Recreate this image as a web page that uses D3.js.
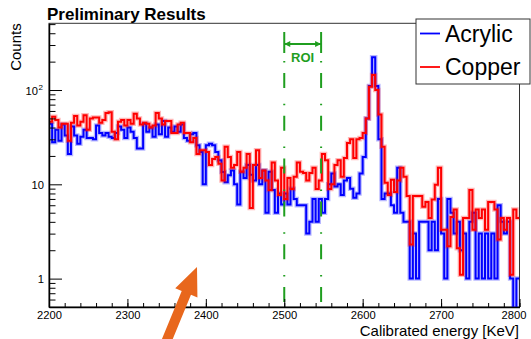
<!DOCTYPE html>
<html>
<head>
<meta charset="utf-8">
<script src="https://cdn.jsdelivr.net/npm/d3@7"></script>
<style>
  body { margin: 0; background: #fff; }
  svg { display: block; font-family: "Liberation Sans", Arial, Helvetica, sans-serif; }
</style>
</head>
<body>
<svg id="chart" width="531" height="339"></svg>
<script>
// binning of both spectra (keV)
const binStart = 2200;
const binWidth = 4;

// counts per bin
const acrylic = [
  44, 28, 38, 29, 43, 33, 21, 41, 33, 27,
  32, 38, 31, 31, 30, 42, 35, 33, 35, 32,
  31, 35, 41, 38, 31, 40, 36, 31, 24, 24,
  44, 36, 40, 32, 43, 34, 47, 32, 40, 36,
  41, 36, 43, 31, 29, 34, 35, 26, 22, 10,
  26, 27, 26, 22, 18, 13.5, 10.5, 12.5, 14, 10,
  6.1, 13.6, 11.7, 16, 12.6, 11, 16, 10, 14, 5,
  13.6, 8.7, 5, 8, 6.1, 8, 6.1, 9, 7, 6,
  6, 6, 3, 4, 7, 4, 7, 5, 7, 10,
  13, 9.5, 10, 7.7, 11, 11.7, 9, 7.2, 8, 13,
  19.5, 50, 110, 223, 110, 30, 7, 8, 8, 6,
  5, 15, 5, 4, 4, 1, 3, 1, 4, 4,
  4, 2, 4, 2, 7, 3, 1, 7, 5, 3,
  4, 2, 3, 1, 4, 5, 1, 3, 1, 3,
  1, 3, 1, 6, 4, 3, 4, 1, 0, 1
];
const copper = [
  46, 52, 48, 40, 44, 44, 29, 45, 53, 42,
  46, 54, 38, 50, 51, 51, 45, 48, 57, 58,
  36, 30, 46, 48, 42, 48, 44, 56, 50, 43,
  45, 44, 40, 42, 57, 50, 43, 47, 47, 35,
  35, 43, 45, 35, 35, 28, 31, 21, 23, 23,
  22, 16, 18.5, 19.5, 16.5, 11, 25, 19.5, 15, 16,
  22, 13.6, 15, 21, 5.6, 16, 23, 11.7, 14, 11,
  8.7, 17, 11, 7.7, 15, 7, 11.7, 8.9, 12, 17,
  13.6, 13.2, 11, 13.2, 15, 8.9, 11, 21, 18, 8.9,
  10, 16, 18, 12, 19, 27.5, 30, 19, 30, 31,
  35, 50, 108, 144, 100, 55, 25, 10.4, 7.7, 11.2,
  8.3, 11, 15, 12, 7.5, 2.3, 7.5, 7.5, 7.5, 5.8,
  6.5, 4.4, 6.9, 9.9, 15, 3.3, 3.3, 2.2, 4.5, 5.4,
  2.1, 1.1, 4.4, 4.4, 8.7, 3.3, 5.4, 4.4, 5.4, 3.3,
  6.5, 6.5, 5.4, 2.6, 4.4, 3.3, 4.4, 1.1, 5.4, 4.4
];

const seriesNames = ["Acrylic", "Copper"];
const seriesColors = ["#0000ff", "#ff0000"];

const xMajor = [2200, 2300, 2400, 2500, 2600, 2700, 2800];
const yMajor = [1, 10, 100];
const yLabels = ["1", "10", "10"];   // the last one gets a superscript 2
const roi = [2500, 2547];

const frame = { left: 49, right: 519.5, top: 23.3, bottom: 307 };
const green = "#1f9e1f";

const svg = d3.select("#chart");

const x = d3.scaleLinear().domain([2200, 2800]).range([frame.left, frame.right]);
const y = d3.scaleLog().domain([0.5, 510]).range([frame.bottom, frame.top]);

// clip for the spectra
svg.append("clipPath").attr("id", "clip")
  .append("rect")
  .attr("x", frame.left).attr("y", frame.top)
  .attr("width", frame.right - frame.left).attr("height", frame.bottom - frame.top);

// frame
svg.append("rect")
  .attr("x", frame.left).attr("y", frame.top)
  .attr("width", frame.right - frame.left).attr("height", frame.bottom - frame.top)
  .attr("fill", "none").attr("stroke", "#333").attr("stroke-width", 1);

// histogram outline as steps
function steps(counts) {
  let pts = counts.map((c, i) => [binStart + i * binWidth, c > 0.5 ? c : 0.3]);
  pts.push([binStart + counts.length * binWidth, pts[pts.length - 1][1]]);
  return pts;
}
const line = d3.line()
  .x(d => x(d[0]))
  .y(d => y(d[1]))
  .curve(d3.curveStepAfter);

const g = svg.append("g").attr("clip-path", "url(#clip)");
[acrylic, copper].forEach((counts, k) => {
  g.append("path").attr("d", line(steps(counts)))
    .attr("fill", "none").attr("stroke", seriesColors[k])
    .attr("stroke-width", 4.5).attr("stroke-opacity", 0.28);
  g.append("path").attr("d", line(steps(counts)))
    .attr("fill", "none").attr("stroke", seriesColors[k])
    .attr("stroke-width", 2);
});

// ROI lines
roi.forEach(e => {
  svg.append("line")
    .attr("x1", x(e)).attr("x2", x(e))
    .attr("y1", 61).attr("y2", frame.bottom)
    .attr("stroke", green).attr("stroke-width", 2)
    .attr("stroke-dasharray", "1.5,10.5,15,15.8");
  svg.append("line")
    .attr("x1", x(e)).attr("x2", x(e))
    .attr("y1", 32).attr("y2", 53)
    .attr("stroke", green).attr("stroke-width", 2);
});
svg.append("line")
  .attr("x1", x(roi[0])).attr("x2", x(roi[1]))
  .attr("y1", 44).attr("y2", 44)
  .attr("stroke", green).attr("stroke-width", 2);
svg.append("path")
  .attr("d", `M${x(roi[0])},44 l6,-3 v6 z M${x(roi[1])},44 l-6,-3 v6 z`)
  .attr("fill", green);
svg.append("text")
  .attr("x", (x(roi[0]) + x(roi[1])) / 2).attr("y", 62)
  .attr("text-anchor", "middle")
  .attr("font-size", 13).attr("font-weight", "bold").attr("fill", green)
  .text("ROI");

// x axis: minor + major ticks pointing inward
const xMinor = d3.range(2200, 2801, 20);
svg.append("g")
  .attr("transform", `translate(0,${frame.bottom})`)
  .call(d3.axisBottom(x).tickValues(xMinor).tickSizeInner(-4).tickSizeOuter(0).tickFormat(""))
  .call(a => a.select(".domain").remove());
const xAxis = svg.append("g")
  .attr("transform", `translate(0,${frame.bottom})`)
  .call(d3.axisBottom(x).tickValues(xMajor).tickSizeInner(-8).tickSizeOuter(0).tickPadding(4).tickFormat(d3.format("d")));
xAxis.select(".domain").attr("stroke-width", 1.5);
xAxis.selectAll("text").attr("font-size", 11.2).attr("fill", "#000")
  .attr("font-family", "Liberation Sans, Arial, sans-serif");
// keep the last label inside the picture
xAxis.selectAll(".tick").filter(d => d === 2800).select("text").attr("dx", -6);

// y axis: log ticks
const yMinor = [];
[0.1, 1, 10, 100].forEach(d => {
  for (let m = 2; m <= 9; m++) {
    const v = d * m;
    if (v >= 0.5 && v <= 510) yMinor.push(v);
  }
});
svg.append("g")
  .attr("transform", `translate(${frame.left},0)`)
  .call(d3.axisLeft(y).tickValues(yMinor).tickSizeInner(-6.5).tickSizeOuter(0).tickFormat(""))
  .call(a => a.select(".domain").remove());
const yAxis = svg.append("g")
  .attr("transform", `translate(${frame.left},0)`)
  .call(d3.axisLeft(y).tickValues(yMajor).tickSizeInner(-13).tickSizeOuter(0).tickFormat(""));
yAxis.select(".domain").attr("stroke-width", 1.5);

yMajor.forEach((v, i) => {
  const t = svg.append("text")
    .attr("x", 44).attr("y", y(v) + 4.5)
    .attr("text-anchor", "end").attr("font-size", 11.2)
    .text(yLabels[i]);
  if (v === 100) {
    t.attr("x", 38);
    svg.append("text")
      .attr("x", 38.5).attr("y", y(v) - 0.5)
      .attr("font-size", 8).text("2");
  }
});

// titles
svg.append("text")
  .attr("x", 47).attr("y", 20)
  .attr("font-size", 17).attr("font-weight", "bold")
  .text("Preliminary Results");
svg.append("text")
  .attr("transform", `translate(21,${frame.top}) rotate(-90)`)
  .attr("text-anchor", "end").attr("font-size", 15)
  .text("Counts");
svg.append("text")
  .attr("x", 519).attr("y", 336)
  .attr("text-anchor", "end").attr("font-size", 15)
  .text("Calibrated energy [KeV]");

// legend
const leg = svg.append("g");
leg.append("rect")
  .attr("x", 416).attr("y", 19).attr("width", 114).attr("height", 65)
  .attr("fill", "#fff").attr("stroke", "#333").attr("stroke-width", 1);
seriesNames.forEach((name, k) => {
  const ly = 33.5 + k * 33.5;
  leg.append("line")
    .attr("x1", 420).attr("x2", 440).attr("y1", ly).attr("y2", ly)
    .attr("stroke", seriesColors[k]).attr("stroke-width", 1.8);
  leg.append("text")
    .attr("x", 445).attr("y", ly + 8)
    .attr("font-size", 23).text(name);
});

// orange annotation arrow
const tip = [197, 267], tail = [162, 352];
const len = Math.hypot(tip[0] - tail[0], tip[1] - tail[1]);
const u = [(tip[0] - tail[0]) / len, (tip[1] - tail[1]) / len];
const n = [-u[1], u[0]];
const headLen = 28, headHalf = 12, shaftHalf = 5;
const base = [tip[0] - headLen * u[0], tip[1] - headLen * u[1]];
const arrowPts = [
  [tail[0] + shaftHalf * n[0], tail[1] + shaftHalf * n[1]],
  [base[0] + shaftHalf * n[0], base[1] + shaftHalf * n[1]],
  [base[0] + headHalf * n[0], base[1] + headHalf * n[1]],
  tip,
  [base[0] - headHalf * n[0], base[1] - headHalf * n[1]],
  [base[0] - shaftHalf * n[0], base[1] - shaftHalf * n[1]],
  [tail[0] - shaftHalf * n[0], tail[1] - shaftHalf * n[1]]
];
svg.append("path")
  .attr("d", "M" + arrowPts.map(p => p.join(",")).join("L") + "Z")
  .attr("fill", "#e8671c");
</script>
</body>
</html>
